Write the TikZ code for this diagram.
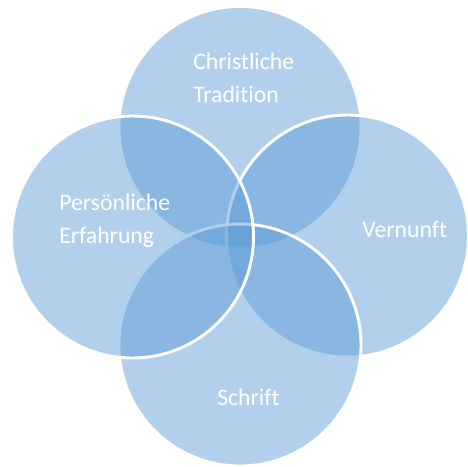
\documentclass[tikz,border=0pt]{standalone}
\usepackage{fontspec}
\setmainfont[Ligatures={NoCommon}]{Carlito}
\usepackage{xcolor}
\usepackage{tikz}

\definecolor{vennblue}{RGB}{91,155,213}

\begin{document}
\begin{tikzpicture}[x=0.75pt,y=0.75pt,yscale=-1,xscale=1,
  venn/.style={draw=white, line width=2.2, fill=vennblue, fill opacity=0.47},
  lbl/.style={text=white, align=left, anchor=west, inner sep=0,
    font=\fontsize{17.8}{24.75}\selectfont}]
%set diagram left start at 0, and has height of 467
\useasboundingbox (0,0) rectangle (468,467);

%Shape: Circle (top)
\draw [venn] (240,127.5) circle (121);
%Shape: Circle (right)
\draw [venn] (347.5,236) circle (121);
%Shape: Circle (bottom)
\draw [venn] (240,345) circle (121);
%Shape: Circle (left)
\draw [venn] (132.5,237) circle (121);

% Text Node
\node [lbl] (tradition) at (193,77.5) {Christliche\\Tradition};
% Text Node
\node [lbl] (erfahrung) at (59,220.5) {Persönliche\\Erfahrung};
% Text Node
\node [lbl] (vernunft) at (362,229) {Vernunft};
% Text Node
\node [lbl] (schrift) at (217,397) {Schrift};

\end{tikzpicture}
\end{document}
